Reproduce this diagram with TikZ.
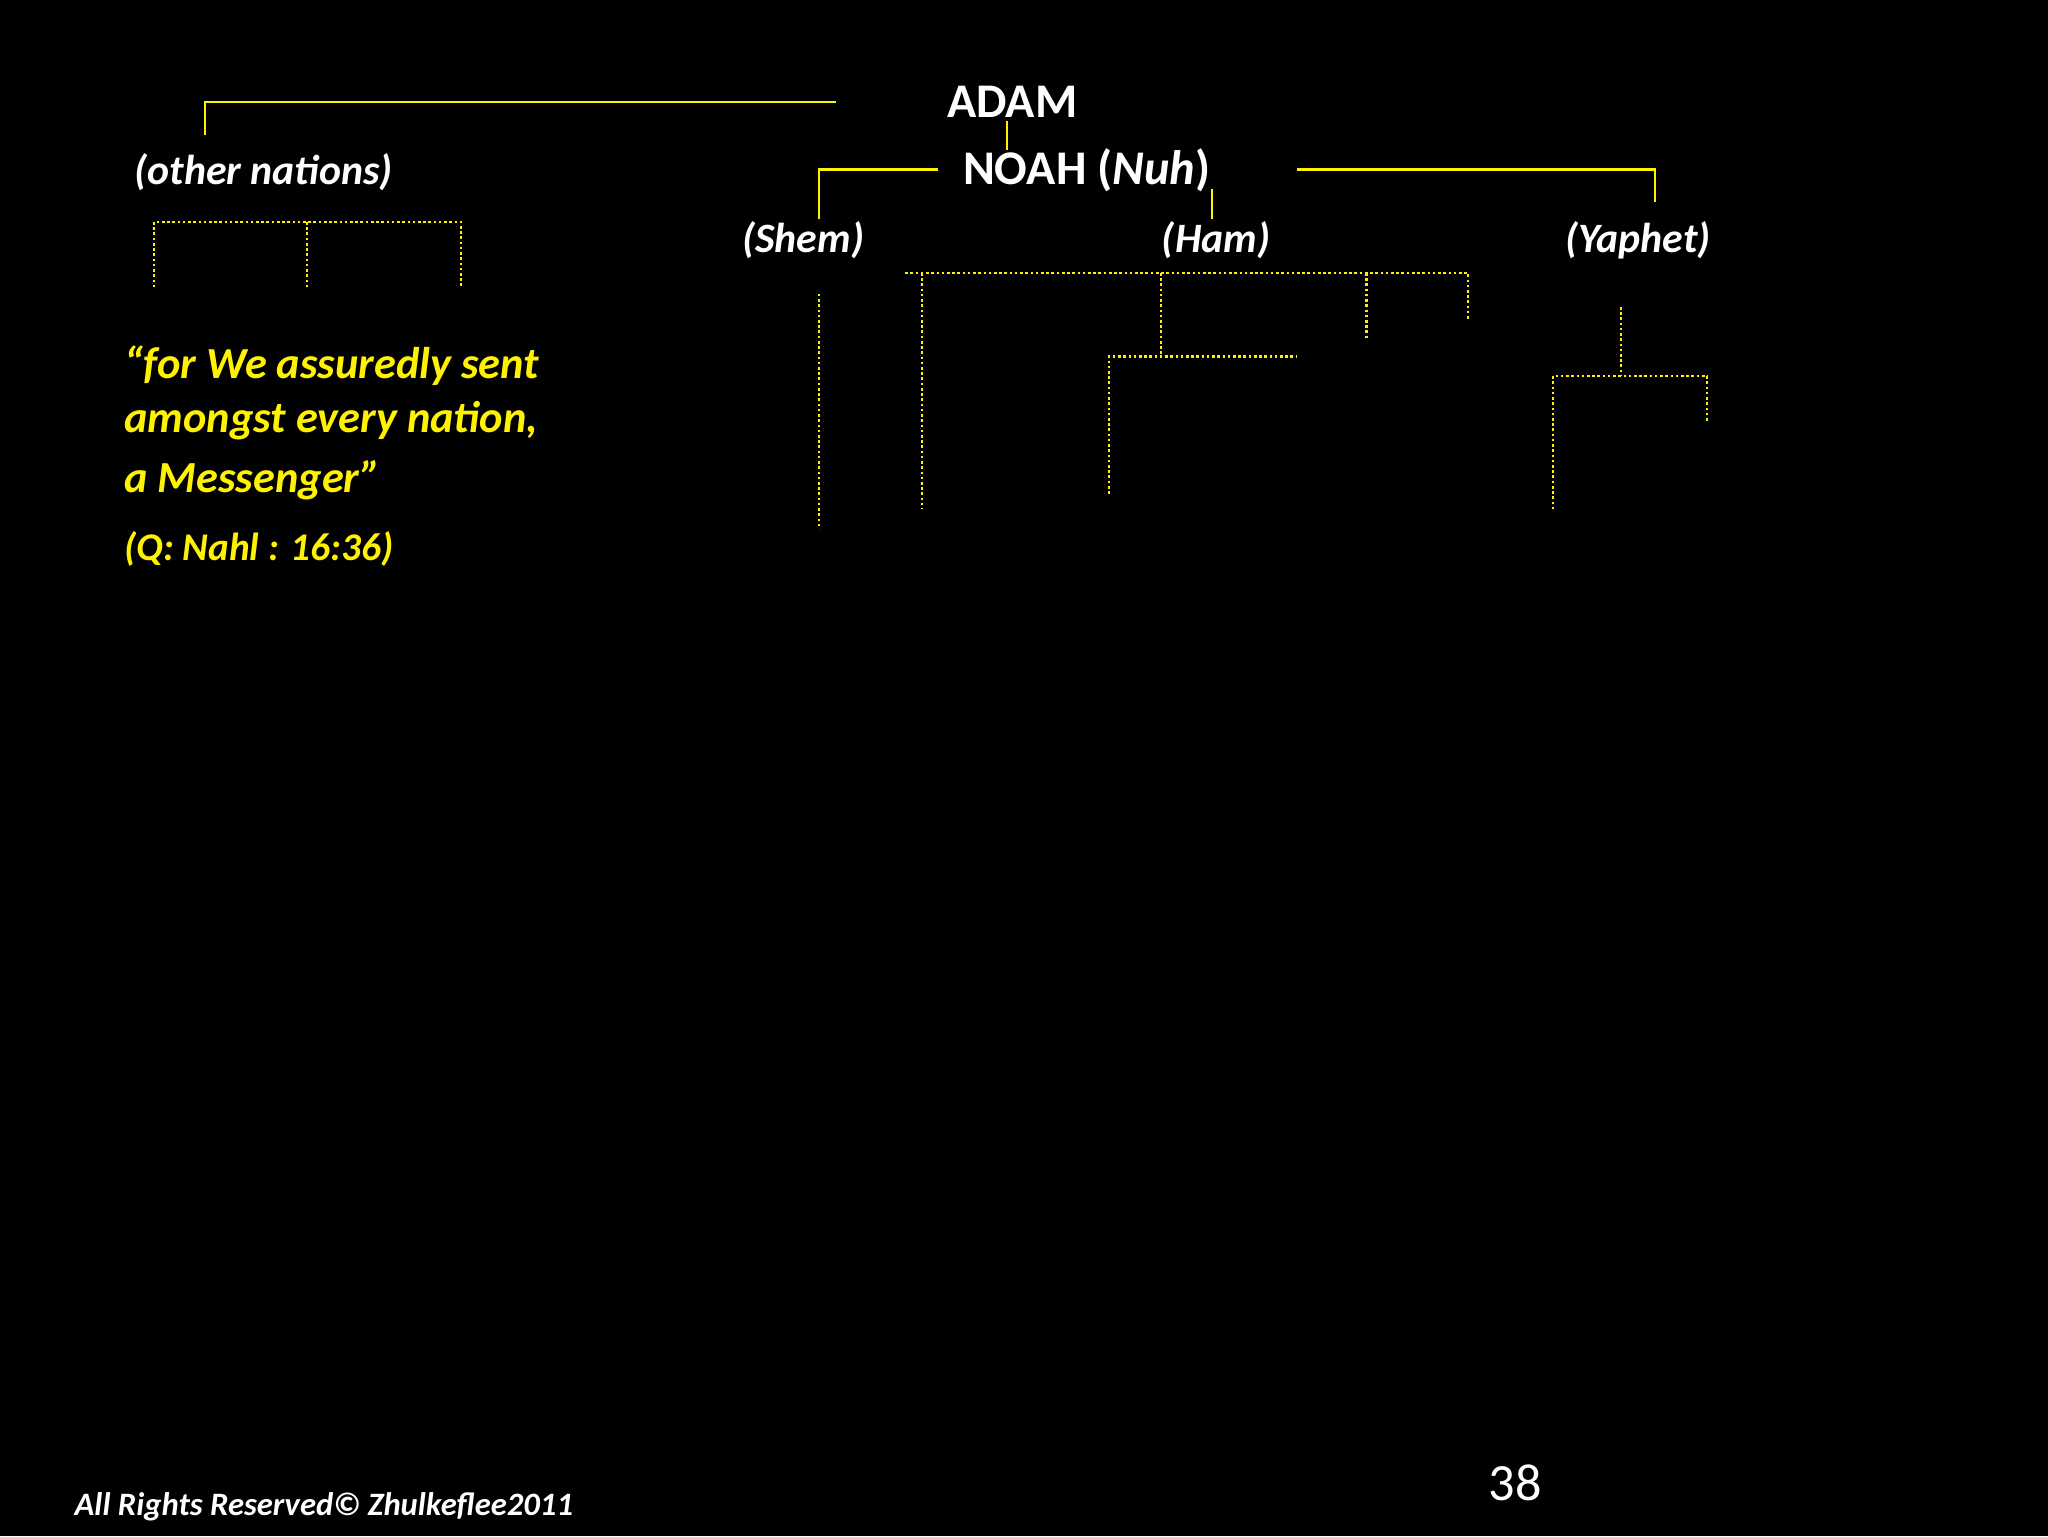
\documentclass[tikz,border=0pt]{standalone}
\usepackage{fontspec}
\setmainfont{Carlito}
\begin{document}
\begin{tikzpicture}[x=1pt,y=-1pt,
  sl/.style={draw=yellow,line width=2pt},
  dl/.style={draw=yellow,line width=2pt,dotted},
  wt/.style={text=white,font=\bfseries\fontsize{37}{42}\selectfont,inner sep=0pt},
  wi/.style={text=white,font=\bfseries\itshape\fontsize{32}{38}\selectfont,inner sep=0pt},
  yq/.style={text=yellow,font=\bfseries\itshape\fontsize{34}{40}\selectfont,inner sep=0pt,anchor=west}]
\fill[black] (0,0) rectangle (1568,1176);
\useasboundingbox (0,0) rectangle (1568,1176);
\node[wt] (adam) at (775,78) {ADAM};
\node[wt] (noah) at (832,130) {NOAH (\textit{Nuh})};
\node[wi] (other) at (202,132) {(other nations)};
\node[wi] (shem) at (615,184) {(Shem)};
\node[wi] (ham) at (931,184) {(Ham)};
\node[wi] (yap) at (1254,184) {(Yaphet)};
\coordinate (a1) at (157,103); \coordinate (a2) at (640,78);
\draw[sl] (a1) |- (a2);
\draw[sl] (771,93) -- (771,115);
\draw[sl] (627,168) |- (718,130);
\draw[sl] (928,145) -- (928,168);
\draw[sl] (993,130) -| (1267,155);
\draw[dl] (118,220) |- (353,170) -- (353,220);
\draw[dl] (235,170) -- (235,220);
\draw[dl] (627,225) -- (627,405);
\draw[dl] (693,209) -- (1124,209) -- (1124,245);
\draw[dl] (706,209) -- (706,390);
\draw[dl] (889,209) -- (889,273);
\draw[dl] (1046,209) -- (1046,260);
\draw[dl] (849,378) |- (993,273);
\draw[dl] (1241,235) -- (1241,288);
\draw[dl] (1189,390) |- (1307,288) -- (1307,323);
\node[yq] (q1) at (95,280) {“for We assuredly sent};
\node[yq] (q2) at (95,322) {amongst every nation,};
\node[yq] (q3) at (95,368) {a Messenger”};
\node[yq,font=\bfseries\itshape\fontsize{30}{34}\selectfont] (q4) at (95,420) {(Q: Nahl : 16:36)};
\node[text=white,font=\bfseries\itshape\fontsize{25}{30}\selectfont,anchor=west,inner sep=0pt] (ft) at (57,1154) {All Rights Reserved© Zhulkeflee2011};
\node[text=white,font=\fontsize{40}{44}\selectfont,inner sep=0pt] (pg) at (1160,1135) {38};
\end{tikzpicture}
\end{document}
